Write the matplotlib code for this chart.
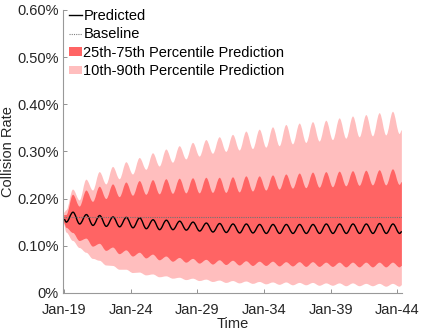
import datetime as dt
import numpy as np
import matplotlib
matplotlib.use("Agg")
import matplotlib.pyplot as plt
import matplotlib.dates as mdates
from matplotlib.patches import Patch, PathPatch
from matplotlib.path import Path
from matplotlib.lines import Line2D

plt.rcParams["font.family"] = ["Liberation Sans", "DejaVu Sans"]

# ------------------------------------------------------------
# data (collision rate in %), read at seasonal peaks (Sep) and troughs (Mar)
# ------------------------------------------------------------
peak_years = list(range(2019, 2044))      # Sep-19 .. Sep-43
trough_years = list(range(2019, 2045))    # Mar-19 .. Mar-44
start_date = dt.date(2019, 1, 1)
end_date = dt.date(2044, 5, 1)

pred_start, pred_end = 0.156, 0.130
pred_peaks = [0.171, 0.166, 0.164, 0.161, 0.160, 0.159, 0.155, 0.154, 0.152, 0.150,
              0.148, 0.147, 0.146, 0.146, 0.145, 0.145, 0.145, 0.145, 0.145, 0.146,
              0.146, 0.146, 0.146, 0.147, 0.146]
pred_troughs = [0.150, 0.146, 0.143, 0.141, 0.140, 0.138, 0.136, 0.134, 0.134, 0.133,
                0.131, 0.129, 0.128, 0.127, 0.127, 0.126, 0.126, 0.126, 0.126, 0.126,
                0.126, 0.126, 0.126, 0.126, 0.126, 0.126]

p90_start, p90_end = 0.170, 0.345
p90_peaks = [0.219, 0.240, 0.256, 0.267, 0.277, 0.286, 0.296, 0.304, 0.311, 0.318,
             0.324, 0.330, 0.335, 0.342, 0.346, 0.351, 0.356, 0.359, 0.362, 0.365,
             0.370, 0.374, 0.377, 0.381, 0.384]
p90_troughs = [0.175, 0.196, 0.217, 0.230, 0.241, 0.251, 0.261, 0.268, 0.276, 0.283,
               0.289, 0.295, 0.299, 0.302, 0.305, 0.308, 0.311, 0.315, 0.318, 0.321,
               0.324, 0.327, 0.330, 0.332, 0.334, 0.337]

p75_start, p75_end = 0.165, 0.235
p75_peaks = [0.208, 0.217, 0.225, 0.230, 0.234, 0.237, 0.239, 0.241, 0.242, 0.243,
             0.244, 0.244, 0.245, 0.247, 0.247, 0.249, 0.251, 0.253, 0.255, 0.256,
             0.257, 0.258, 0.259, 0.260, 0.262]
p75_troughs = [0.165, 0.183, 0.193, 0.199, 0.203, 0.206, 0.208, 0.209, 0.210, 0.211,
               0.211, 0.212, 0.212, 0.213, 0.215, 0.217, 0.219, 0.221, 0.222, 0.223,
               0.224, 0.226, 0.227, 0.228, 0.228, 0.229]

p25_start, p25_end = 0.148, 0.057
p25_peaks = [0.127, 0.115, 0.104, 0.096, 0.090, 0.085, 0.081, 0.077, 0.074, 0.072,
             0.070, 0.069, 0.068, 0.067, 0.066, 0.066, 0.065, 0.065, 0.065, 0.064,
             0.064, 0.064, 0.064, 0.064, 0.064]
p25_troughs = [0.138, 0.110, 0.098, 0.089, 0.082, 0.077, 0.073, 0.069, 0.066, 0.064,
               0.062, 0.060, 0.059, 0.058, 0.057, 0.057, 0.056, 0.056, 0.055, 0.055,
               0.055, 0.054, 0.054, 0.054, 0.054, 0.054]

p10_start, p10_end = 0.145, 0.016
p10_peaks = [0.110, 0.085, 0.068, 0.057, 0.049, 0.043, 0.039, 0.035, 0.032, 0.030,
             0.028, 0.026, 0.025, 0.024, 0.023, 0.022, 0.022, 0.021, 0.021, 0.020,
             0.020, 0.020, 0.019, 0.019, 0.019]
p10_troughs = [0.128, 0.095, 0.072, 0.058, 0.049, 0.042, 0.037, 0.033, 0.030, 0.027,
               0.025, 0.023, 0.021, 0.020, 0.019, 0.018, 0.017, 0.016, 0.016, 0.015,
               0.015, 0.014, 0.014, 0.014, 0.013, 0.013]

baseline = 0.16

yticks = [0, 0.1, 0.2, 0.3, 0.4, 0.5, 0.6]
ytick_labels = ["0%", "0.10%", "0.20%", "0.30%", "0.40%", "0.50%", "0.60%"]
xtick_years = [2019, 2024, 2029, 2034, 2039, 2044]

COL_DARK = "#FF6464"
COL_LIGHT = "#FFBEBE"


def build(start, peaks, troughs, end):
    """interleave start / Mar troughs / Sep peaks / end into a dated series"""
    dates, vals = [start_date], [start]
    for i, yr in enumerate(trough_years):
        dates.append(dt.date(yr, 3, 1)); vals.append(troughs[i])
        if i < len(peak_years):
            dates.append(dt.date(peak_years[i], 9, 1)); vals.append(peaks[i])
    dates.append(end_date); vals.append(end)
    return mdates.date2num(dates), np.array(vals)


def smooth_segments(x, y, k=0.36):
    # cubic bezier through every point, flat tangent at each one (wave look)
    verts, codes = [], []
    for i in range(len(x) - 1):
        dx = x[i + 1] - x[i]
        verts += [(x[i] + k * dx, y[i]), (x[i + 1] - k * dx, y[i + 1]), (x[i + 1], y[i + 1])]
        codes += [Path.CURVE4] * 3
    return verts, codes


def smooth_line(x, y):
    v, c = smooth_segments(x, y)
    return Path([(x[0], y[0])] + v, [Path.MOVETO] + c)


def smooth_band(x, lo, hi):
    v1, c1 = smooth_segments(x, hi)
    xr, lr = x[::-1], lo[::-1]
    v2, c2 = smooth_segments(xr, lr)
    verts = [(x[0], hi[0])] + v1 + [(xr[0], lr[0])] + v2 + [(x[0], hi[0])]
    codes = [Path.MOVETO] + c1 + [Path.LINETO] + c2 + [Path.CLOSEPOLY]
    return Path(verts, codes)


t, pred = build(pred_start, pred_peaks, pred_troughs, pred_end)
_, p90 = build(p90_start, p90_peaks, p90_troughs, p90_end)
_, p75 = build(p75_start, p75_peaks, p75_troughs, p75_end)
_, p25 = build(p25_start, p25_peaks, p25_troughs, p25_end)
_, p10 = build(p10_start, p10_peaks, p10_troughs, p10_end)

fig = plt.figure(figsize=(4.23, 3.32), dpi=100)
ax = fig.add_axes([0.149, 0.118, 0.801, 0.852])

ax.add_patch(PathPatch(smooth_band(t, p10, p90), facecolor=COL_LIGHT, lw=0))
ax.add_patch(PathPatch(smooth_band(t, p25, p75), facecolor=COL_DARK, lw=0))
ax.axhline(baseline, color="0.45", ls=(0, (1, 1)), lw=0.8)
ax.add_patch(PathPatch(smooth_line(t, pred), facecolor="none", edgecolor="black", lw=1.0))

ax.xaxis_date()
ax.set_xlim(mdates.date2num(dt.date(2018, 12, 1)), t[-1])
ax.set_ylim(0, 0.6)
ax.set_yticks(yticks)
ax.set_yticklabels(ytick_labels)
ax.set_xticks(mdates.date2num([dt.date(y, 1, 1) for y in xtick_years]))
ax.xaxis.set_major_formatter(mdates.DateFormatter("%b-%y"))

for s in ["top", "right"]:
    ax.spines[s].set_visible(False)
for s in ["left", "bottom"]:
    ax.spines[s].set_color("0.6")
    ax.spines[s].set_linewidth(0.8)
ax.tick_params(direction="in", length=3, width=0.6, color="0.5",
               labelsize=10.5, labelcolor="0.15")
ax.tick_params(axis="x", pad=7.5)
ax.tick_params(axis="y", pad=3)

ax.set_ylabel("Collision Rate", fontsize=10.5, color="0.15", labelpad=2)
ax.set_xlabel("Time", fontsize=10.5, color="0.15", labelpad=0)

handles = [
    Line2D([], [], color="black", lw=1.0),
    Line2D([], [], color="0.5", ls=(0, (1, 1)), lw=0.8),
    Patch(facecolor=COL_DARK, edgecolor="none"),
    Patch(facecolor=COL_LIGHT, edgecolor="none"),
]
labels = ["Predicted", "Baseline", "25th-75th Percentile Prediction",
          "10th-90th Percentile Prediction"]
ax.legend(handles, labels, loc="upper left", bbox_to_anchor=(0.017, 1.004),
          frameon=False, fontsize=10.5, handlelength=0.9, handleheight=0.5,
          handletextpad=0.1, labelspacing=0.3, borderaxespad=0, borderpad=0,
          labelcolor="black")

fig.savefig("out.png", dpi=100)
